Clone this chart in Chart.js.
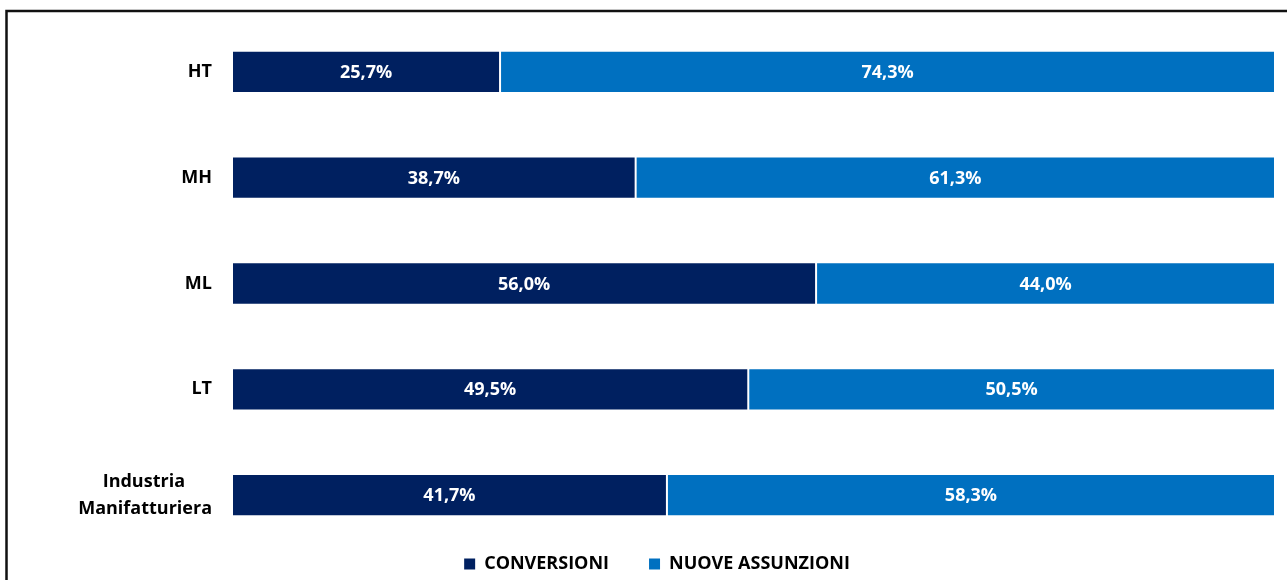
<!DOCTYPE html>
<html>
<head>
<meta charset="utf-8">
<script src="https://cdn.jsdelivr.net/npm/chart.js@4.4.1/dist/chart.umd.min.js"></script>
<style>
  body { margin: 0; background: #fff; }
  #wrap { width: 1287px; height: 580px; }
</style>
</head>
<body>
<div id="wrap"><canvas id="barChart"></canvas></div>
<script>
// data
const categories = ['HT', 'MH', 'ML', 'LT', ['Industria\u2002\u2002\u2002', 'Manifatturiera']];
const conversioni = [25.7, 38.7, 56.0, 49.5, 41.7];
const nuoveAssunzioni = [74.3, 61.3, 44.0, 50.5, 58.3];
const seriesNames = ['CONVERSIONI', 'NUOVE ASSUNZIONI'];
const seriesColors = ['#002060', '#0070C0'];

const FONT = "'Open Sans', sans-serif";

// white % labels in the middle of each segment
const barLabels = {
    id: 'barLabels',
    afterDatasetsDraw(chart) {
        const ctx = chart.ctx;
        ctx.save();
        ctx.font = "bold 18px " + FONT;
        ctx.fillStyle = '#fff';
        ctx.textAlign = 'center';
        ctx.textBaseline = 'middle';
        chart.data.datasets.forEach((ds, i) => {
            chart.getDatasetMeta(i).data.forEach((bar, j) => {
                const x = (bar.x + bar.base) / 2;
                ctx.fillText(ds.data[j].toFixed(1).replace('.', ',') + '%', x, bar.y + 1);
            });
        });
        ctx.restore();
    }
};

// black frame around the picture
const frame = {
    id: 'frame',
    beforeDraw(chart) {
        const ctx = chart.ctx;
        ctx.save();
        ctx.strokeStyle = '#111';
        ctx.lineWidth = 2.5;
        ctx.strokeRect(6.5, 11, 1400, 700);
        ctx.restore();
    }
};

new Chart(document.querySelector('#barChart'), {
    type: 'bar',
    data: {
        labels: categories,
        datasets: [
            {
                label: seriesNames[0],
                data: conversioni,
                backgroundColor: seriesColors[0],
                borderColor: 'rgba(255,255,255,0.45)',
                borderWidth: 1,
                borderSkipped: false
            },
            {
                label: seriesNames[1],
                data: nuoveAssunzioni,
                backgroundColor: seriesColors[1],
                borderColor: 'rgba(255,255,255,0.45)',
                borderWidth: 1,
                borderSkipped: false
            }
        ]
    },
    options: {
        indexAxis: 'y',
        responsive: true,
        maintainAspectRatio: false,
        animation: false,
        layout: { padding: { left: 39, right: 12, top: 19, bottom: -3 } },
        categoryPercentage: 1,
        barPercentage: 0.4,
        scales: {
            x: { stacked: true, min: 0, max: 100, display: false },
            y: {
                stacked: true,
                grid: { display: false, drawTicks: false },
                border: { display: false },
                ticks: {
                    padding: 20,
                    color: '#000',
                    font: { family: FONT, size: 18, weight: 'bold', lineHeight: 1.5 }
                },
                afterFit(scale) {
                    scale.width = 193;
                    scale.paddingTop = 0;
                    scale.paddingBottom = 0;
                }
            }
        },
        plugins: {
            legend: {
                position: 'bottom',
                labels: {
                    boxWidth: 11,
                    boxHeight: 11,
                    padding: 7,
                    color: '#000',
                    font: { family: FONT, size: 18, weight: 'bold' },
                    generateLabels(chart) {
                        return chart.data.datasets.map((ds, i) => ({
                            text: i === 0 ? ds.label + '\u2003\u2002\u2004' : ds.label,
                            fillStyle: ds.backgroundColor,
                            strokeStyle: ds.backgroundColor,
                            lineWidth: 0,
                            datasetIndex: i
                        }));
                    }
                }
            },
            tooltip: { enabled: false }
        }
    },
    plugins: [barLabels, frame]
});
</script>
</body>
</html>
